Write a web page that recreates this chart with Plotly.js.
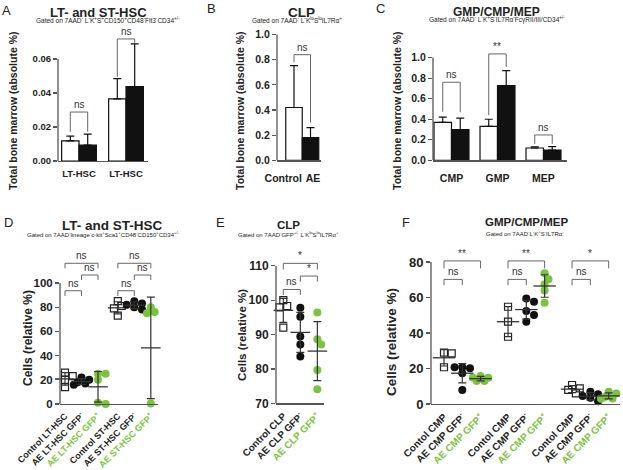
<!DOCTYPE html>
<html><head><meta charset="utf-8">
<script src="https://cdn.plot.ly/plotly-3.0.1.min.js"></script>
<style>html,body{margin:0;padding:0;background:#fff}#chart{width:623px;height:470px}</style>
</head><body><div id="chart"></div>
<script>
// ================= DATA =================
// Panel A: LT- and ST-HSC (absolute %)
const aCategories = ['LT-HSC', 'LT-HSC'];
const aControl    = [0.0118, 0.0365];
const aControlSD  = [0.0028, 0.0119];
const aAE         = [0.0093, 0.0438];
const aAESD       = [0.0065, 0.0251];
const aSig        = ['ns', 'ns'];
// Panel B: CLP (absolute %)
const bCategories = ['Control', 'AE'];
const bValues     = [0.42, 0.18];
const bSD         = [0.333, 0.08];
const bSig        = ['ns'];
// Panel C: GMP/CMP/MEP (absolute %)
const cCategories = ['CMP', 'GMP', 'MEP'];
const cControl    = [0.37, 0.33, 0.12];
const cControlSD  = [0.05, 0.07, 0.012];
const cAE         = [0.30, 0.727, 0.10];
const cAESD       = [0.11, 0.146, 0.033];
const cSig        = ['ns', '**', 'ns'];
// Panel D: LT- and ST-HSC (relative %)
const dLabels = ['Control LT-HSC', 'AE LT-HSC GFP<sup>-</sup>', 'AE LT-HSC GFP<sup>+</sup>',
                 'Control ST-HSC', 'AE ST-HSC GFP<sup>-</sup>', 'AE ST-HSC GFP<sup>+</sup>'];
const dValues = [[26, 23, 20, 14], [22, 20, 18, 17, 16], [25, 25, 20, 1, 0],
                 [85, 81, 79, 73], [85, 83, 82, 80, 78], [80, 76, 75, 0.5, 0.5]];
const dSig = ['ns', 'ns', 'ns', 'ns', 'ns', 'ns'];
// Panel E: CLP (relative %)
const eLabels = ['Control CLP', 'AE CLP GFP<sup>-</sup>', 'AE CLP GFP<sup>+</sup>'];
const eValues = [[100, 98.3, 97.9, 92], [97.8, 95.2, 89.4, 87.1, 83.6], [96.4, 88.6, 87.1, 79.7, 74.1]];
const eSig = ['ns', '*', '*'];
// Panel F: GMP/CMP/MEP (relative %)
const fLabels = ['Contol CMP', 'AE CMP GFP<sup>-</sup>', 'AE CMP GFP<sup>+</sup>',
                 'Contol CMP', 'AE CMP GFP<sup>-</sup>', 'AE CMP GFP<sup>+</sup>',
                 'Contol CMP', 'AE CMP GFP<sup>-</sup>', 'AE CMP GFP<sup>+</sup>'];
const fValues = [[28.9, 28.5, 20.7], [20.7, 20.1, 20.7, 17.3, 7.9], [15.8, 14.8, 14.8, 13, 13],
                 [54.8, 46.4, 37.9], [59.5, 57.6, 52.4, 50.1, 46.4], [73.6, 70.3, 67.4, 64, 57.1],
                 [10.7, 8.8, 8, 6], [6.9, 5.5, 4.5, 3.5, 1.5], [6.9, 5.9, 4, 3.1, 3]];
const fSig = ['ns', '**', 'ns', '**', 'ns', '*'];

// ================= STYLE / LAYOUT =================
const W = 623, H = 470;
const FONT = 'Liberation Sans, Arial, Helvetica, sans-serif';
const GREEN = '#7cc242';
const AX = '#555';
const xd = (l, r) => [l / W, r / W];
const yd = (t, b) => [1 - b / H, 1 - t / H];

const traces = [];
const shapes = [];
const annotations = [];

function txt(x, y, text, size, bold, extra) {
  annotations.push(Object.assign({xref: 'paper', yref: 'paper', x: x / W, y: 1 - y / H, text: text,
    showarrow: false, xanchor: 'center', yanchor: 'middle',
    font: {family: FONT, size: size, color: '#222', weight: bold ? 'bold' : 'normal'}}, extra || {}));
}
function yLine(ya, lpx, y0, y1) {
  shapes.push({type: 'line', xref: 'paper', yref: ya, x0: lpx / W, x1: lpx / W, y0: y0, y1: y1,
    line: {color: AX, width: 1.3}});
}
function bracket(xa, ya, x0, x1, top, b0, b1, label, fs) {
  shapes.push({type: 'path', xref: xa, yref: ya,
    path: `M${x0},${b0}L${x0},${top}L${x1},${top}L${x1},${b1}`, line: {color: '#666', width: 1}});
  annotations.push({xref: xa, yref: ya, x: (x0 + x1) / 2, y: top, text: label, showarrow: false,
    yanchor: 'bottom', xanchor: 'center', font: {family: FONT, size: fs, color: '#333'}});
}
function barPair(xa, ya, xs, ctrl, ctrlSD, ae, aeSD, bw) {
  const zeros = xs.map(() => 0);
  traces.push({type: 'bar', x: xs, y: ctrl, xaxis: xa, yaxis: ya, offset: -bw, width: bw,
    marker: {color: '#fff', line: {color: '#111', width: 1.2}},
    error_y: {type: 'data', symmetric: false, array: ctrlSD, arrayminus: zeros, width: 4, thickness: 1.2, color: '#111'}});
  traces.push({type: 'bar', x: xs, y: ae, xaxis: xa, yaxis: ya, offset: 0, width: bw,
    marker: {color: '#111', line: {color: '#111', width: 1.2}},
    error_y: {type: 'data', symmetric: false, array: aeSD, arrayminus: zeros, width: 4, thickness: 1.2, color: '#111'}});
}
function swarm(vals, pxX, pxY, d) {
  const placed = [], offs = [];
  vals.forEach(v => {
    const py = v * pxY;
    let best = 0, bestD = -1;
    for (let k = 0; k <= 4; k++) {
      const cand = (k === 0 ? 0 : (k % 2 ? 1 : -1) * Math.ceil(k / 2)) * d * 0.55;
      const md = placed.length ? Math.min(...placed.map(p => Math.hypot(p[0] - cand, p[1] - py))) : 1e9;
      if (md >= d * 0.85) { best = cand; bestD = md; break; }
      if (md > bestD) { bestD = md; best = cand; }
    }
    placed.push([best, py]); offs.push(best / pxX);
  });
  return offs;
}
function dotPanel(xa, ya, vals, pos, pxX, pxY, msize, mlen) {
  vals.forEach((v, i) => {
    const t = i % 3;
    const offs = swarm(v, pxX, pxY, msize);
    const marker = t === 0 ? {symbol: 'square-open', size: msize, color: '#222', line: {width: 1.2, color: '#222'}}
                 : t === 1 ? {symbol: 'circle', size: msize + 1, color: '#111', line: {width: 0}}
                 : {symbol: 'circle', size: msize + 1, color: GREEN, line: {width: 0}};
    traces.push({type: 'scatter', mode: 'markers', xaxis: xa, yaxis: ya,
      x: v.map((_, j) => pos[i] + offs[j]), y: v, marker: marker, cliponaxis: false});
    const m = v.reduce((a, b) => a + b, 0) / v.length;
    const sd = Math.sqrt(v.reduce((a, b) => a + (b - m) * (b - m), 0) / (v.length - 1));
    traces.push({type: 'scatter', mode: 'markers', xaxis: xa, yaxis: ya, x: [pos[i]], y: [m],
      marker: {symbol: 'line-ew', size: mlen, line: {width: 1.3, color: '#333'}},
      error_y: {type: 'data', array: [sd], width: 4, thickness: 1.2, color: '#333'}, cliponaxis: false});
  });
}
function colorTicks(labels) {
  return labels.map((l, i) => i % 3 === 2 ? `<span style="color:${GREEN}">${l}</span>` : l);
}
const baseX = {type: 'linear', showgrid: false, zeroline: false, showline: true, linecolor: AX, linewidth: 1.3,
  ticks: '', fixedrange: true, ticklabeloverflow: 'allow', automargin: false};
const baseY = {type: 'linear', showgrid: false, zeroline: false, showline: false, ticks: 'outside', ticklen: 4,
  tickcolor: AX, tickwidth: 1.2, fixedrange: true, automargin: false};
const tf = (s) => ({family: FONT, size: s, color: '#222', weight: 'bold'});

// ---------- Panel A ----------
barPair('x', 'y', [0, 1], aControl, aControlSD, aAE, aAESD, 0.37);
yLine('y', 58, 0, 0.06);
bracket('x', 'y', -0.185, 0.185, 0.0288, 0.0172, 0.0172, aSig[0], 10);
bracket('x', 'y', 0.815, 1.185, 0.0718, 0.0495, 0.0695, aSig[1], 10);
// ---------- Panel B ----------
traces.push({type: 'bar', x: [0, 1], y: bValues, xaxis: 'x2', yaxis: 'y2', width: 1,
  marker: {color: ['#fff', '#111'], line: {color: '#111', width: 1.2}},
  error_y: {type: 'data', symmetric: false, array: bSD, arrayminus: [0, 0], width: 4, thickness: 1.2, color: '#111'}});
yLine('y2', 277, 0, 1.0);
bracket('x2', 'y2', 0, 1, 0.84, 0.78, 0.30, bSig[0], 10);
// ---------- Panel C ----------
barPair('x3', 'y3', [0, 1, 2], cControl, cControlSD, cAE, cAESD, 0.38);
yLine('y3', 433, 0, 1.0);
bracket('x3', 'y3', -0.19, 0.19, 0.76, 0.474, 0.468, cSig[0], 10);
bracket('x3', 'y3', 0.81, 1.19, 1.036, 0.44, 0.91, cSig[1], 10);
bracket('x3', 'y3', 1.81, 2.19, 0.247, 0.16, 0.16, cSig[2], 10);
// ---------- Panel D ----------
const dPos = [0, 1, 2, 3.2, 4.2, 5.2];
dotPanel('x4', 'y4', dValues, dPos, 16.5, 1.21, 7, 14);
yLine('y4', 60, 0, 100);
[0, 3].forEach((g, k) => {
  const p = dPos[g];
  bracket('x4', 'y4', p, p + 1, 93.6, 89.3, 89.3, dSig[k * 3], 10);
  bracket('x4', 'y4', p + 1, p + 2, 106.6, 102.5, 102.5, dSig[k * 3 + 1], 10);
  bracket('x4', 'y4', p, p + 2, 116.3, 112.1, 112.1, dSig[k * 3 + 2], 10);
});
// ---------- Panel E ----------
const ePos = [0, 1, 2];
dotPanel('x5', 'y5', eValues, ePos, 17, 3.44, 7, 14);
yLine('y5', 276, 70, 110);
bracket('x5', 'y5', 0, 1, 103.1, 101.5, 101.5, eSig[0], 10);
bracket('x5', 'y5', 1, 2, 107, 105.4, 105.4, eSig[1], 10);
bracket('x5', 'y5', 0, 2, 110.7, 108.9, 108.9, eSig[2], 10);
// ---------- Panel F ----------
const fPos = [0, 1, 2, 3.5, 4.5, 5.5, 7, 8, 9];
dotPanel('x6', 'y6', fValues, fPos, 18.3, 1.775, 7, 16);
yLine('y6', 431, 0, 80);
[0, 3.5, 7].forEach((p, k) => {
  bracket('x6', 'y6', p, p + 1, 70.2, 67, 67, fSig[k * 2], 10);
  bracket('x6', 'y6', p, p + 2, 80.6, 76.4, 76.4, fSig[k * 2 + 1], 10);
});

// ---------- Titles & labels ----------
txt(6, 10, 'A', 13, false); txt(211, 9, 'B', 13, false); txt(380, 9, 'C', 13, false);
txt(8, 223, 'D', 13, false); txt(220, 223, 'E', 13, false); txt(406, 223, 'F', 13, false);
txt(98, 12, 'LT- and ST-HSC', 13, true);
txt(108, 20, 'Gated on 7AAD<sup>-</sup> L<sup>-</sup>K<sup>+</sup>S<sup>+</sup>CD150<sup>+</sup>CD48<sup>-</sup>Flt3<sup>-</sup>CD34<sup>+/-</sup>', 6.5, false);
txt(301, 12, 'CLP', 13.5, true);
txt(297, 20, 'Gated on 7AAD<sup>-</sup> L<sup>-</sup>K<sup>lo</sup>S<sup>lo</sup>IL7Rα<sup>+</sup>', 6.5, false);
txt(497, 12, 'GMP/CMP/MEP', 12, true);
txt(497, 20, 'Gated on 7AAD<sup>-</sup> L<sup>-</sup>K<sup>+</sup>S<sup>-</sup>IL7Rα<sup>-</sup>FcγRII/III/CD34<sup>+/-</sup>', 6.5, false);
txt(112, 225, 'LT- and ST-HSC', 13.5, true);
txt(103, 234, 'Gated on 7AAD<sup>-</sup>lineage<sup>-</sup>c-kit<sup>+</sup>Sca1<sup>+</sup>CD48<sup>-</sup>CD150<sup>+</sup>CD34<sup>+/-</sup>', 6, false);
txt(288, 225, 'CLP', 11.5, true);
txt(288, 234, 'Gated on 7AAD<sup>-</sup>GFP<sup>+/-</sup> L<sup>-</sup>K<sup>lo</sup>S<sup>lo</sup>IL7Rα<sup>+</sup>', 6, false);
txt(526, 222, 'GMP/CMP/MEP', 11.5, true);
txt(525, 233, 'Gated on 7AAD<sup>-</sup>L<sup>-</sup>K<sup>+</sup>S<sup>-</sup>IL7Rα<sup>-</sup>', 6, false);
// y-axis titles
txt(13, 111, 'Total bone marrow (absolute %)', 10.5, true, {textangle: -90});
txt(240, 111, 'Total bone marrow (absolute %)', 10.5, true, {textangle: -90});
txt(397, 111, 'Total bone marrow (absolute %)', 10.5, true, {textangle: -90});
txt(28, 338, 'Cells (relative %)', 12, true, {textangle: -90});
txt(242, 335, 'Cells (relative %)', 11.5, true, {textangle: -90});
txt(391, 342, 'Cells (relative %)', 13.5, true, {textangle: -90});

const layout = {
  width: W, height: H, margin: {l: 0, r: 0, t: 0, b: 0}, paper_bgcolor: '#fff', plot_bgcolor: 'rgba(0,0,0,0)',
  showlegend: false, barmode: 'overlay', hovermode: false,
  font: {family: FONT, color: '#222'},
  xaxis: Object.assign({}, baseX, {domain: xd(58, 148), range: [-0.447, 1.468], anchor: 'y',
    tickvals: [0, 1], ticktext: aCategories, tickfont: tf(9.5), ticklabelstandoff: 3}),
  yaxis: Object.assign({}, baseY, {domain: yd(25, 161), range: [0, 0.08], anchor: 'x',
    tickvals: [0, 0.02, 0.04, 0.06], tickformat: '.2f', tickfont: tf(9.5)}),
  xaxis2: Object.assign({}, baseX, {domain: xd(277, 321), range: [-1.03, 1.636], anchor: 'y2',
    tickvals: [-0.65, 1.15], ticktext: bCategories, tickfont: tf(10.5), ticklabelstandoff: 8}),
  yaxis2: Object.assign({}, baseY, {domain: yd(28.3, 160.3), range: [0, 1.05], anchor: 'x2',
    tickvals: [0, 0.2, 0.4, 0.6, 0.8, 1.0], tickformat: '.1f', tickfont: tf(10.5)}),
  xaxis3: Object.assign({}, baseX, {domain: xd(433, 567), range: [-0.402, 2.511], anchor: 'y3',
    tickvals: [0, 1, 2], ticktext: cCategories, tickfont: tf(10.5), ticklabelstandoff: 8}),
  yaxis3: Object.assign({}, baseY, {domain: yd(45.3, 160.3), range: [0, 1.12], anchor: 'x3',
    tickvals: [0, 0.2, 0.4, 0.6, 0.8, 1.0], tickformat: '.1f', tickfont: tf(10.5)}),
  xaxis4: Object.assign({}, baseX, {domain: xd(60, 158), range: [-0.303, 5.636], anchor: 'y4',
    tickvals: dPos, ticktext: colorTicks(dLabels), tickangle: -45, tickfont: tf(9), ticklabelstandoff: 2}),
  yaxis4: Object.assign({}, baseY, {domain: yd(252.75, 404), range: [0, 125], anchor: 'x4',
    tickvals: [0, 20, 40, 60, 80, 100], tickfont: tf(11.5)}),
  xaxis5: Object.assign({}, baseX, {domain: xd(276, 324), range: [-0.43, 2.39], anchor: 'y5',
    tickvals: ePos, ticktext: colorTicks(eLabels), tickangle: -45, tickfont: tf(9.8), ticklabelstandoff: 2}),
  yaxis5: Object.assign({}, baseY, {domain: yd(252, 403.3), range: [70, 114], anchor: 'x5',
    tickvals: [70, 80, 90, 100, 110], tickfont: tf(12)}),
  xaxis6: Object.assign({}, baseX, {domain: xd(431, 620), range: [-0.71, 9.62], anchor: 'y6',
    tickvals: fPos, ticktext: colorTicks(fLabels), tickangle: -45, tickfont: tf(10), ticklabelstandoff: 2}),
  yaxis6: Object.assign({}, baseY, {domain: yd(247.8, 404), range: [0, 88], anchor: 'x6',
    tickvals: [0, 20, 40, 60, 80], tickfont: tf(13)}),
  shapes: shapes, annotations: annotations
};
Plotly.newPlot('chart', traces, layout, {displayModeBar: false, staticPlot: true});
</script></body></html>
